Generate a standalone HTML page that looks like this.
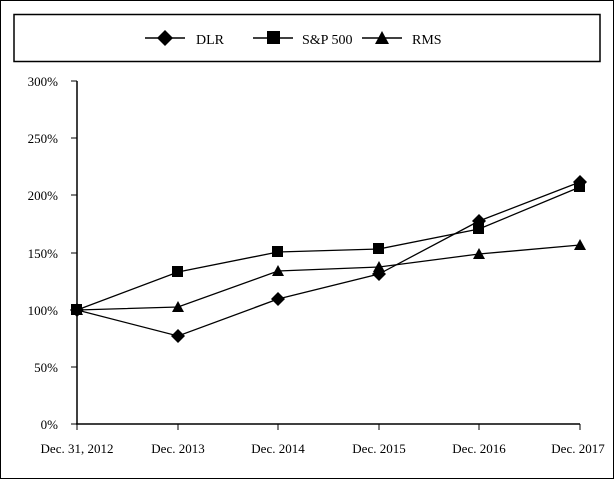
<!DOCTYPE html>
<html><head><style>body{margin:0;background:#fff}svg{display:block}text{font-family:"Liberation Serif",serif;font-size:13px;fill:#000}</style></head><body>
<svg width="614" height="480" viewBox="0 0 614 480">
<rect x="0.5" y="0.5" width="613" height="478" fill="#fff" stroke="#000" stroke-width="1"/>
<rect x="14" y="14.5" width="586" height="47" fill="#fff" stroke="#000" stroke-width="1.5"/>
<g stroke="#000" stroke-width="1.5">
<line x1="145" y1="38" x2="185" y2="38"/><line x1="253" y1="38" x2="293" y2="38"/><line x1="362" y1="38" x2="402" y2="38"/>
</g>
<polygon points="165,30 173,38 165,46 157,38" fill="#000"/>
<rect x="267" y="31" width="13" height="13" fill="#000"/>
<polygon points="382,31 389,44 375,44" fill="#000"/>
<text x="196" y="44" style="font-size:14px">DLR</text><text x="302" y="44" style="font-size:14px">S&amp;P 500</text><text x="412" y="44" style="font-size:14px">RMS</text>
<g stroke="#000" stroke-width="1.5" fill="none">
<line x1="77" y1="81" x2="77" y2="424"/><line x1="76" y1="424" x2="580" y2="424"/>
</g>
<g stroke="#000" stroke-width="1">
<line x1="71" y1="81" x2="77" y2="81"/><line x1="71" y1="138" x2="77" y2="138"/><line x1="71" y1="195" x2="77" y2="195"/><line x1="71" y1="253" x2="77" y2="253"/><line x1="71" y1="310" x2="77" y2="310"/><line x1="71" y1="367" x2="77" y2="367"/><line x1="71" y1="424" x2="77" y2="424"/>
<line x1="77" y1="424" x2="77" y2="430"/><line x1="178" y1="424" x2="178" y2="430"/><line x1="278" y1="424" x2="278" y2="430"/><line x1="379" y1="424" x2="379" y2="430"/><line x1="479" y1="424" x2="479" y2="430"/><line x1="580" y1="424" x2="580" y2="430"/>
</g>
<g text-anchor="end">
<text x="58" y="86">300%</text><text x="58" y="143">250%</text><text x="58" y="200">200%</text><text x="58" y="258">150%</text><text x="58" y="315">100%</text><text x="58" y="372">50%</text><text x="58" y="429">0%</text>
</g>
<g text-anchor="middle">
<text x="77" y="453">Dec. 31, 2012</text><text x="178" y="453">Dec. 2013</text><text x="278" y="453">Dec. 2014</text><text x="379" y="453">Dec. 2015</text><text x="479" y="453">Dec. 2016</text><text x="578" y="453">Dec. 2017</text>
</g>
<g stroke="#000" stroke-width="1.3" fill="none">
<polyline points="77,310 178,336 278,299 379,274 479,221 580,182"/>
<polyline points="77,310 178,272 278,252 379,249 479,229 580,187"/>
<polyline points="77,310 178,307 278,271 379,267 479,254 580,245"/>
</g>
<g fill="#000">
<rect x="71" y="304" width="11" height="11"/><rect x="172" y="266" width="11" height="11"/><rect x="272" y="246" width="11" height="11"/><rect x="373" y="243" width="11" height="11"/><rect x="473" y="223" width="11" height="11"/><rect x="574" y="181" width="11" height="11"/>
<polygon points="77,304 83,315 71,315"/><polygon points="178,301 184,312 172,312"/><polygon points="278,265 284,276 272,276"/><polygon points="379,261 385,272 373,272"/><polygon points="479,248 485,259 473,259"/><polygon points="580,239 586,250 574,250"/>
<polygon points="77,303 84,310 77,317 70,310"/><polygon points="178,329 185,336 178,343 171,336"/><polygon points="278,292 285,299 278,306 271,299"/><polygon points="379,267 386,274 379,281 372,274"/><polygon points="479,214 486,221 479,228 472,221"/><polygon points="580,175 587,182 580,189 573,182"/>
</g>
</svg>
</body></html>
